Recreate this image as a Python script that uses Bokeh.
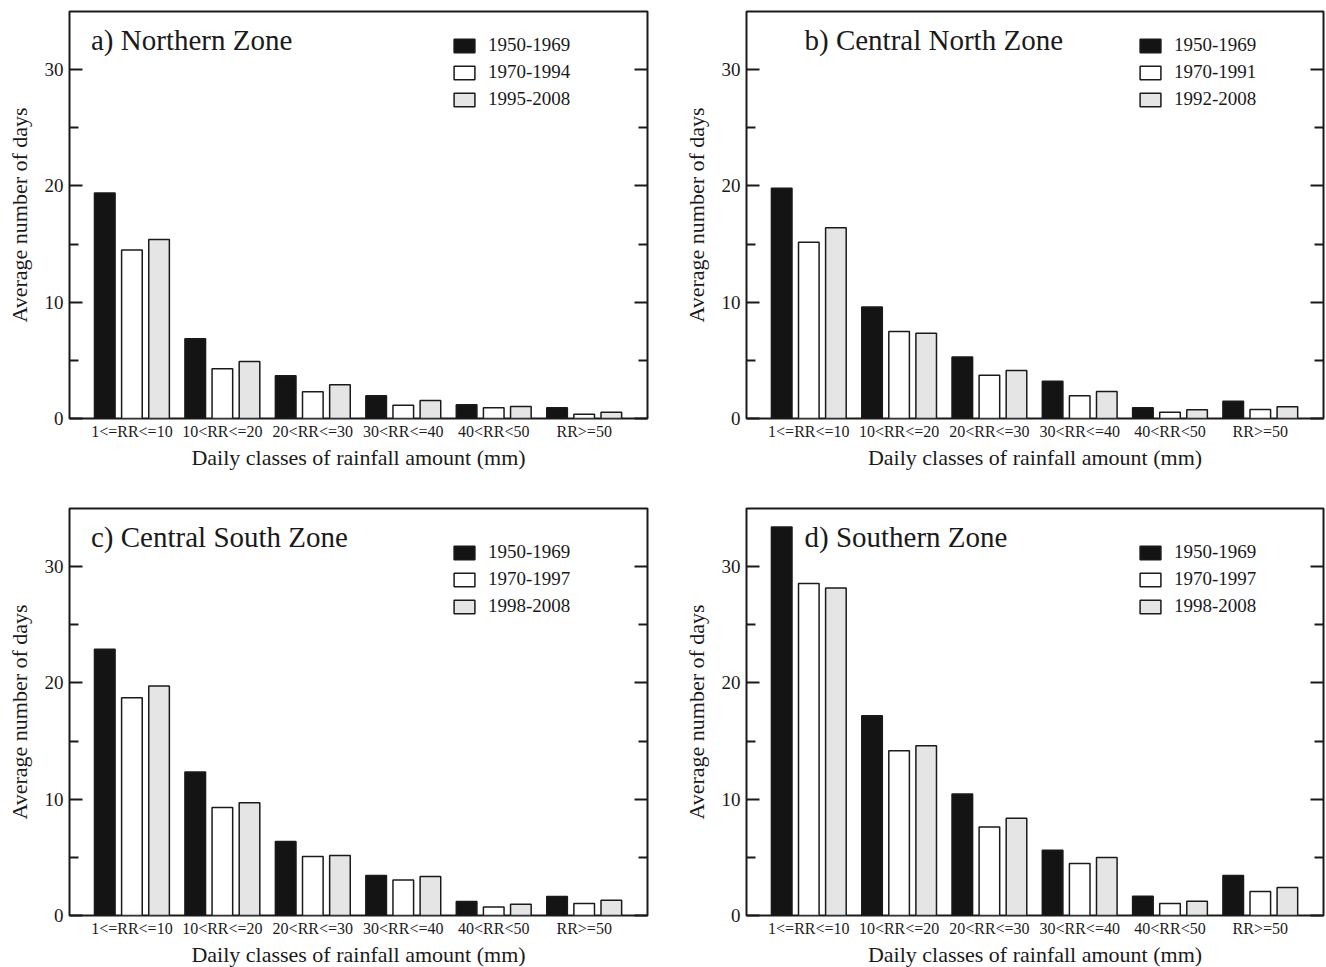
from bokeh.plotting import figure
from bokeh.models import (ColumnDataSource, FixedTicker, LinearAxis, Range1d,
                          Legend, LegendItem, Label)
from bokeh.layouts import row, column
from bokeh.transform import dodge
from bokeh.embed import file_html
from bokeh.resources import INLINE

# Daily rainfall classes (mm)
categories = ["1<=RR<=10", "10<RR<=20", "20<RR<=30", "30<RR<=40", "40<RR<50", "RR>=50"]

# Average number of days per class, one list per period
northern_1950_1969 = [19.4, 6.86, 3.67, 1.95, 1.19, 0.92]
northern_1970_1994 = [14.5, 4.28, 2.30, 1.15, 0.93, 0.37]
northern_1995_2008 = [15.4, 4.90, 2.90, 1.55, 1.03, 0.53]

central_north_1950_1969 = [19.8, 9.58, 5.28, 3.21, 0.92, 1.49]
central_north_1970_1991 = [15.15, 7.49, 3.73, 1.95, 0.54, 0.77]
central_north_1992_2008 = [16.4, 7.34, 4.13, 2.32, 0.75, 1.00]

central_south_1950_1969 = [22.9, 12.33, 6.36, 3.43, 1.20, 1.63]
central_south_1970_1997 = [18.73, 9.29, 5.07, 3.06, 0.74, 1.03]
central_south_1998_2008 = [19.73, 9.69, 5.16, 3.35, 0.97, 1.31]

southern_1950_1969 = [33.4, 17.18, 10.44, 5.62, 1.66, 3.43]
southern_1970_1997 = [28.56, 14.17, 7.62, 4.47, 1.03, 2.06]
southern_1998_2008 = [28.16, 14.6, 8.37, 4.98, 1.23, 2.40]

y_major_ticks = [0, 10, 20, 30]
y_minor_ticks = [5, 15, 25]

FONT = "Liberation Serif"
INK = "#1a1a1a"
FILLS = ["#141414", "#ffffff", "#e4e5e4"]

FRAME_W_LEFT, FRAME_W_RIGHT, FRAME_H = 578, 577, 407
GLYPH_H = 17      # legend swatch box height
ROW_H = 22        # height of one legend row (set by the label text)
SPACING = 5
TITLE_Y = 379     # panel title height above the bottom of the frame, px


def panel(title, periods, series, borders, frame_w, title_x, legend_x, legend_row1):
    left, right, top, bottom = borders
    p = figure(frame_width=frame_w, frame_height=FRAME_H,
               min_border_left=left, min_border_right=right,
               min_border_top=top, min_border_bottom=bottom,
               x_range=Range1d(-0.69, 5.70), y_range=Range1d(0, 35),
               output_backend="svg", toolbar_location=None, tools="",
               background_fill_color="white", border_fill_color="white")
    p.xgrid.visible = False
    p.ygrid.visible = False
    p.outline_line_color = INK
    p.outline_line_width = 2

    src = ColumnDataSource(dict(pos=list(range(len(categories))),
                                s0=series[0], s1=series[1], s2=series[2]))
    renderers = []
    for k, (col, fill) in enumerate(zip(["s0", "s1", "s2"], FILLS)):
        r = p.vbar(x=dodge("pos", (k - 1) * 0.30, range=p.x_range), top=col,
                   bottom=0, width=0.228, source=src,
                   fill_color=fill, line_color=INK, line_width=1.5)
        renderers.append(r)

    # x axis: category names under each group
    xa = p.xaxis[0]
    xa.ticker = FixedTicker(ticks=list(range(len(categories))))
    xa.major_label_overrides = {i: c for i, c in enumerate(categories)}
    xa.major_tick_in = 0
    xa.major_tick_out = 0
    xa.minor_tick_in = 0
    xa.minor_tick_out = 0
    xa.axis_line_color = None
    xa.major_label_text_font = FONT
    xa.major_label_text_font_size = "16px"
    xa.major_label_text_color = INK
    xa.major_label_standoff = 4
    xa.axis_label = "Daily classes of rainfall amount (mm)"
    xa.axis_label_text_font = FONT
    xa.axis_label_text_font_size = "22px"
    xa.axis_label_text_font_style = "normal"
    xa.axis_label_text_color = INK
    xa.axis_label_standoff = 2

    # y axis on the left with labels, mirrored ticks on the right
    ya = p.yaxis[0]
    ya.ticker = FixedTicker(ticks=y_major_ticks, minor_ticks=y_minor_ticks)
    ya.axis_label = "Average number of days"
    ya.axis_label_text_font = FONT
    ya.axis_label_text_font_size = "22px"
    ya.axis_label_text_font_style = "normal"
    ya.axis_label_text_color = INK
    ya.axis_label_standoff = 10
    ya.major_label_text_font = FONT
    ya.major_label_text_font_size = "19px"
    ya.major_label_text_color = INK
    ya.major_label_standoff = 6
    ya.axis_line_color = None

    ra = LinearAxis(ticker=FixedTicker(ticks=y_major_ticks, minor_ticks=y_minor_ticks),
                    major_label_overrides={t: "" for t in y_major_ticks},
                    major_label_standoff=0, axis_line_color=None)
    p.add_layout(ra, "right")
    for ax in (ya, ra):
        ax.major_tick_in = 13
        ax.major_tick_out = 0
        ax.minor_tick_in = 9
        ax.minor_tick_out = 0
        ax.major_tick_line_color = INK
        ax.minor_tick_line_color = INK
        ax.major_tick_line_width = 2
        ax.minor_tick_line_width = 2

    p.add_layout(Label(x=title_x, y=TITLE_Y, x_units="screen", y_units="screen",
                       text=title, text_font=FONT, text_font_size="29px",
                       text_color=INK, text_baseline="alphabetic"))

    legend_h = 3 * ROW_H + 2 * SPACING
    legend_top = legend_row1 - ROW_H / 2
    legend = Legend(items=[LegendItem(label=lab, renderers=[r])
                           for lab, r in zip(periods, renderers)],
                    location=(legend_x, FRAME_H - legend_top - legend_h),
                    padding=0, margin=0, border_line_color=None,
                    background_fill_alpha=0, glyph_width=26, glyph_height=GLYPH_H,
                    label_height=GLYPH_H, spacing=SPACING, label_standoff=11,
                    label_text_font=FONT, label_text_font_size="19px",
                    label_text_color=INK)
    p.add_layout(legend, "center")
    return p


pa = panel("a) Northern Zone", ["1950-1969", "1970-1994", "1995-2008"],
           [northern_1950_1969, northern_1970_1994, northern_1995_2008],
           (69, 30, 11, 60), FRAME_W_LEFT, 21.5, 382, 34.3)
pb = panel("b) Central North Zone", ["1950-1969", "1970-1991", "1992-2008"],
           [central_north_1950_1969, central_north_1970_1991, central_north_1992_2008],
           (69, 3, 11, 60), FRAME_W_RIGHT, 58, 391, 34.3)
pc = panel("c) Central South Zone", ["1950-1969", "1970-1997", "1998-2008"],
           [central_south_1950_1969, central_south_1970_1997, central_south_1998_2008],
           (69, 30, 30, 52), FRAME_W_LEFT, 21.5, 382, 44.1)
pd = panel("d) Southern Zone", ["1950-1969", "1970-1997", "1998-2008"],
           [southern_1950_1969, southern_1970_1997, southern_1998_2008],
           (69, 3, 30, 52), FRAME_W_RIGHT, 58, 391, 44.1)

layout = column(row(pa, pb), row(pc, pd))
open("out.html", "w").write(file_html(layout, INLINE))
